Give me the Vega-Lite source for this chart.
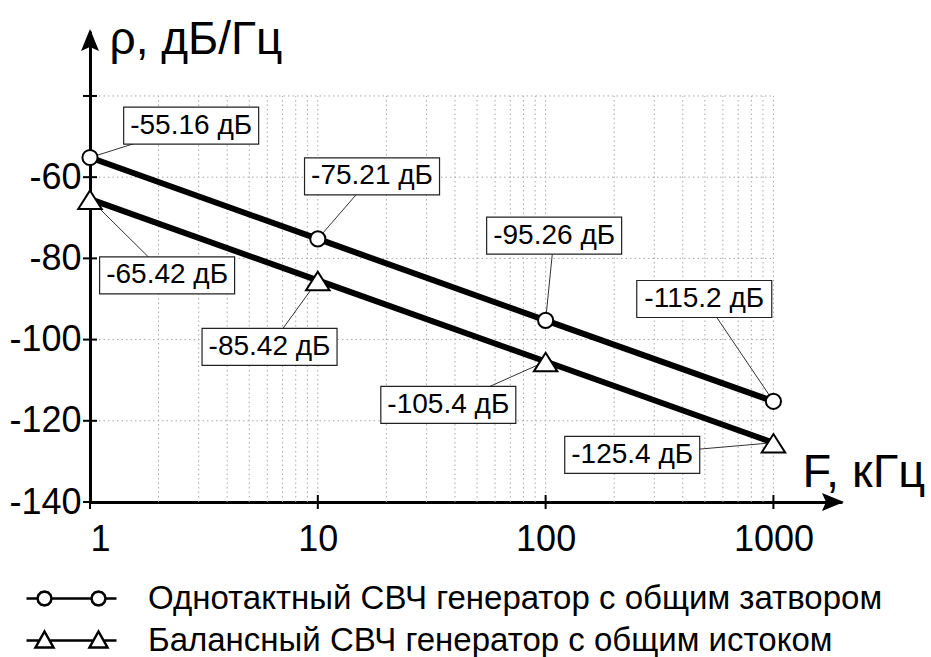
{
  "$schema": "https://vega.github.io/schema/vega-lite/v6.json",
  "width": 752,
  "height": 471,
  "autosize": {"type": "none"},
  "padding": {"left": 90, "top": 31, "right": 89, "bottom": 155},
  "background": "white",
  "config": {
    "view": {"stroke": null},
    "font": "Liberation Sans",
    "axis": {
      "domainColor": "black",
      "domainWidth": 3,
      "ticks": false,
      "tickSize": 0,
      "grid": false,
      "labelFont": "Liberation Sans",
      "labelFontSize": 36,
      "labelColor": "black",
      "titleFont": "Liberation Sans",
      "titleColor": "black",
      "titleFontWeight": "normal"
    }
  },
  "datasets": {
    "spectrum": [
      {"series": "Однотактный СВЧ генератор с общим затвором", "F": 1, "rho": -55.16, "labelF": 2.78, "labelRho": -47.3},
      {"series": "Однотактный СВЧ генератор с общим затвором", "F": 10, "rho": -75.21, "labelF": 17.3, "labelRho": -59.8},
      {"series": "Однотактный СВЧ генератор с общим затвором", "F": 100, "rho": -95.26, "labelF": 109, "labelRho": -74.4},
      {"series": "Однотактный СВЧ генератор с общим затвором", "F": 1000, "rho": -115.2, "labelF": 497, "labelRho": -90.0},
      {"series": "Балансный СВЧ генератор с общим истоком", "F": 1, "rho": -65.42, "labelF": 2.18, "labelRho": -84.2},
      {"series": "Балансный СВЧ генератор с общим истоком", "F": 10, "rho": -85.42, "labelF": 6.14, "labelRho": -101.8},
      {"series": "Балансный СВЧ генератор с общим истоком", "F": 100, "rho": -105.4, "labelF": 37.4, "labelRho": -116.1},
      {"series": "Балансный СВЧ генератор с общим истоком", "F": 1000, "rho": -125.4, "labelF": 240, "labelRho": -128.4}
    ],
    "logGrid": [
      {"F": 2}, {"F": 3}, {"F": 4}, {"F": 5}, {"F": 6}, {"F": 7}, {"F": 8}, {"F": 9}, {"F": 10},
      {"F": 20}, {"F": 30}, {"F": 40}, {"F": 50}, {"F": 60}, {"F": 70}, {"F": 80}, {"F": 90}, {"F": 100},
      {"F": 200}, {"F": 300}, {"F": 400}, {"F": 500}, {"F": 600}, {"F": 700}, {"F": 800}, {"F": 900}, {"F": 1000}
    ],
    "rhoGrid": [
      {"rho": -120}, {"rho": -100}, {"rho": -80}, {"rho": -60}, {"rho": -40}
    ],
    "fTicks": [{"F": 1}, {"F": 10}, {"F": 100}, {"F": 1000}],
    "rhoTicks": [
      {"rho": -140}, {"rho": -120}, {"rho": -100}, {"rho": -80}, {"rho": -60}, {"rho": -40}
    ]
  },
  "resolve": {"scale": {"shape": "independent"}, "legend": {"shape": "independent"}},
  "layer": [
    {
      "data": {"name": "logGrid"},
      "mark": {"type": "rule", "color": "#a8a8a8", "strokeWidth": 1, "strokeDash": [1.5, 3]},
      "encoding": {
        "x": {"field": "F", "type": "quantitative", "scale": {"type": "log", "domain": [1, 2000], "nice": false}},
        "y": {"datum": -140, "type": "quantitative", "scale": {"domain": [-140, -24], "nice": false, "zero": false}},
        "y2": {"datum": -40}
      }
    },
    {
      "data": {"name": "rhoGrid"},
      "mark": {"type": "rule", "color": "#a8a8a8", "strokeWidth": 1, "strokeDash": [1.5, 3]},
      "encoding": {
        "x": {"datum": 1, "type": "quantitative", "scale": {"type": "log", "domain": [1, 2000], "nice": false}},
        "x2": {"datum": 1000},
        "y": {"field": "rho", "type": "quantitative", "scale": {"domain": [-140, -24], "nice": false, "zero": false}}
      }
    },
    {
      "data": {"name": "spectrum"},
      "mark": {"type": "line", "color": "black", "strokeWidth": 6},
      "encoding": {
        "x": {
          "field": "F", "type": "quantitative",
          "scale": {"type": "log", "domain": [1, 2000], "nice": false},
          "axis": {
            "values": [1, 10, 100, 1000],
            "labelExpr": "'' + datum.value",
            "labelPadding": 20,
            "title": "F, кГц",
            "titleFontSize": 47,
            "titleAlign": "left",
            "titleBaseline": "alphabetic",
            "titleAngle": 0,
            "titleX": 712,
            "titleY": -16
          }
        },
        "y": {
          "field": "rho", "type": "quantitative",
          "scale": {"domain": [-140, -24], "nice": false, "zero": false},
          "axis": {
            "values": [-140, -120, -100, -80, -60],
            "labelExpr": "'' + datum.value",
            "labelPadding": 9,
            "title": "ρ, дБ/Гц",
            "titleFontSize": 46,
            "titleAlign": "left",
            "titleBaseline": "alphabetic",
            "titleAngle": 0,
            "titleX": 19,
            "titleY": 22
          }
        },
        "detail": {"field": "series", "type": "nominal"}
      }
    },
    {
      "data": {"name": "spectrum"},
      "mark": {"type": "rule", "color": "#333333", "strokeWidth": 1},
      "encoding": {
        "x": {"field": "F", "type": "quantitative", "scale": {"type": "log", "domain": [1, 2000], "nice": false}},
        "y": {"field": "rho", "type": "quantitative", "scale": {"domain": [-140, -24], "nice": false, "zero": false}},
        "x2": {"field": "labelF"},
        "y2": {"field": "labelRho"}
      }
    },
    {
      "data": {"name": "spectrum"},
      "mark": {"type": "point", "filled": true, "fill": "white", "stroke": "black", "strokeWidth": 2, "size": 230, "opacity": 1},
      "encoding": {
        "x": {"field": "F", "type": "quantitative", "scale": {"type": "log", "domain": [1, 2000], "nice": false}},
        "y": {"field": "rho", "type": "quantitative", "scale": {"domain": [-140, -24], "nice": false, "zero": false}},
        "shape": {
          "field": "series", "type": "nominal",
          "scale": {
            "domain": ["Однотактный СВЧ генератор с общим затвором", "Балансный СВЧ генератор с общим истоком"],
            "range": ["circle", "M0,-1.15L1.55,1.3H-1.55Z"]
          },
          "legend": null
        }
      }
    },
    {
      "data": {"name": "spectrum"},
      "transform": [{"filter": "datum.F < 0"}],
      "mark": {"type": "point", "filled": false, "color": "black", "strokeWidth": 2.5, "opacity": 1},
      "encoding": {
        "x": {"field": "F", "type": "quantitative", "scale": {"type": "log", "domain": [1, 2000], "nice": false}},
        "y": {"field": "rho", "type": "quantitative", "scale": {"domain": [-140, -24], "nice": false, "zero": false}},
        "shape": {
          "field": "series", "type": "nominal",
          "scale": {
            "domain": ["Однотактный СВЧ генератор с общим затвором", "Балансный СВЧ генератор с общим истоком"],
            "range": [
              "M-4.5,0H-3.4M-2,0H2M3.4,0H4.5M-2,0L-2.094,0.35L-2.35,0.606L-2.7,0.7L-3.05,0.606L-3.306,0.35L-3.4,0L-3.306,-0.35L-3.05,-0.606L-2.7,-0.7L-2.35,-0.606L-2.094,-0.35ZM3.4,0L3.306,0.35L3.05,0.606L2.7,0.7L2.35,0.606L2.094,0.35L2,0L2.094,-0.35L2.35,-0.606L2.7,-0.7L3.05,-0.606L3.306,-0.35Z",
              "M-4.5,0H-3.21M-2.19,0H2.19M3.21,0H4.5M-2.7,-0.9L-1.8,0.7H-3.6ZM2.7,-0.9L3.6,0.7H1.8Z"
            ]
          },
          "legend": {
            "orient": "none",
            "legendX": -35,
            "legendY": 551,
            "title": null,
            "padding": 0,
            "rowPadding": 8,
            "labelFont": "Liberation Sans",
            "labelFontSize": 33,
            "labelColor": "black",
            "labelLimit": 900,
            "labelOffset": 60,
            "symbolSize": 400,
            "symbolFillColor": "white",
            "symbolStrokeColor": "black",
            "symbolStrokeWidth": 2.5,
            "symbolOpacity": 1,
            "encode": {
              "symbols": {
                "update": {
                  "fill": {"value": "white"},
                  "stroke": {"value": "black"},
                  "strokeWidth": {"value": 2.5},
                  "opacity": {"value": 1}
                }
              }
            }
          }
        }
      }
    },
    {
      "data": {"name": "spectrum"},
      "mark": {"type": "point", "shape": "M-1,-0.274H1V0.274H-1Z", "size": 18225, "filled": true, "fill": "white", "stroke": "#222222", "strokeWidth": 1.2, "opacity": 1},
      "encoding": {
        "x": {"field": "labelF", "type": "quantitative", "scale": {"type": "log", "domain": [1, 2000], "nice": false}},
        "y": {"field": "labelRho", "type": "quantitative", "scale": {"domain": [-140, -24], "nice": false, "zero": false}}
      }
    },
    {
      "data": {"name": "spectrum"},
      "transform": [{"calculate": "datum.rho + ' дБ'", "as": "label"}],
      "mark": {"type": "text", "font": "Liberation Sans", "fontSize": 28, "color": "black", "align": "center", "baseline": "middle"},
      "encoding": {
        "x": {"field": "labelF", "type": "quantitative", "scale": {"type": "log", "domain": [1, 2000], "nice": false}},
        "y": {"field": "labelRho", "type": "quantitative", "scale": {"domain": [-140, -24], "nice": false, "zero": false}},
        "text": {"field": "label"}
      }
    },
    {
      "data": {"name": "fTicks"},
      "mark": {"type": "point", "shape": "M0,-1V1", "size": 196, "filled": false, "color": "black", "strokeWidth": 2, "opacity": 1},
      "encoding": {
        "x": {"field": "F", "type": "quantitative", "scale": {"type": "log", "domain": [1, 2000], "nice": false}},
        "y": {"datum": -140, "type": "quantitative", "scale": {"domain": [-140, -24], "nice": false, "zero": false}}
      }
    },
    {
      "data": {"name": "rhoTicks"},
      "mark": {"type": "point", "shape": "M-1,0H1", "size": 196, "filled": false, "color": "black", "strokeWidth": 2, "opacity": 1},
      "encoding": {
        "x": {"datum": 1, "type": "quantitative", "scale": {"type": "log", "domain": [1, 2000], "nice": false}},
        "y": {"field": "rho", "type": "quantitative", "scale": {"domain": [-140, -24], "nice": false, "zero": false}}
      }
    },
    {
      "data": {"values": [{}]},
      "mark": {"type": "point", "shape": "M0,-0.2L0.9,2L0,1.6L-0.9,2Z", "size": 400, "filled": true, "color": "black", "opacity": 1},
      "encoding": {
        "x": {"datum": 1, "type": "quantitative", "scale": {"type": "log", "domain": [1, 2000], "nice": false}},
        "y": {"datum": -24, "type": "quantitative", "scale": {"domain": [-140, -24], "nice": false, "zero": false}}
      }
    },
    {
      "data": {"values": [{}]},
      "mark": {"type": "point", "shape": "M0.2,0L-2,0.9L-1.6,0L-2,-0.9Z", "size": 400, "filled": true, "color": "black", "opacity": 1},
      "encoding": {
        "x": {"datum": 2000, "type": "quantitative", "scale": {"type": "log", "domain": [1, 2000], "nice": false}},
        "y": {"datum": -140, "type": "quantitative", "scale": {"domain": [-140, -24], "nice": false, "zero": false}}
      }
    }
  ]
}
